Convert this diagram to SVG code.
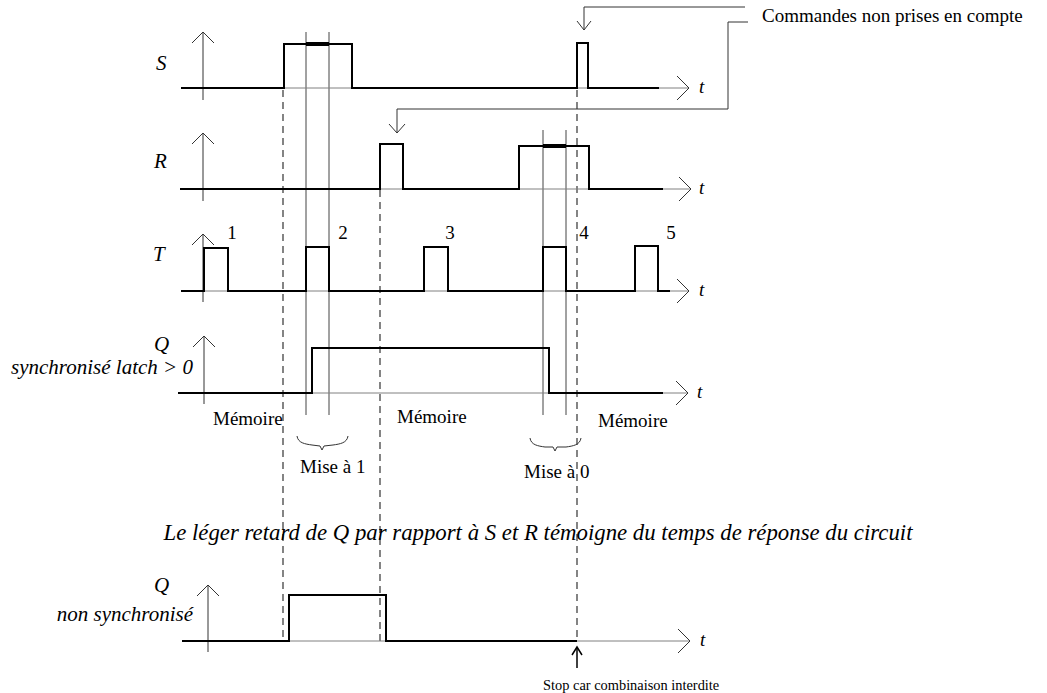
<svg xmlns="http://www.w3.org/2000/svg" width="1047" height="693" viewBox="0 0 1047 693">
<style>
text{font-family:"Liberation Serif","Times New Roman",serif;fill:#000}
.lbl{font-size:21px;font-style:italic}
.t{font-size:19px;font-style:italic}
.it{font-size:21px;font-style:italic}
.cap{font-size:22.8px;font-style:italic}
.txt{font-size:19px}
.axis{stroke:#808080;stroke-width:1;fill:none}
.vax{stroke:#333;stroke-width:1;fill:none}
.sig{stroke:#000;stroke-width:2;fill:none;stroke-linejoin:miter}
.hold{stroke:#000;stroke-width:4;fill:none}
.dash{stroke:#333;stroke-width:1.2;stroke-dasharray:7 5;fill:none}
.thin{stroke:#444;stroke-width:1;fill:none}
.ann{stroke:#333;stroke-width:1;fill:none}
</style>
<rect width="1047" height="693" fill="#fff"/>

<g id="guides">
<line class="dash" x1="283" y1="90" x2="283" y2="641"/>
<line class="dash" x1="380" y1="190" x2="380" y2="641"/>
<line class="dash" x1="577" y1="90" x2="577" y2="641"/>
<line class="thin" x1="306" y1="32" x2="306" y2="415"/>
<line class="thin" x1="329" y1="32" x2="329" y2="415"/>
<line class="thin" x1="543" y1="130" x2="543" y2="415"/>
<line class="thin" x1="566" y1="130" x2="566" y2="415"/>
</g>

<g id="signal-S">
<text class="lbl" x="156" y="70">S</text>
<line class="vax" x1="203" y1="32" x2="203" y2="100"/>
<polyline class="vax" points="192,43 203,32 214,43"/>
<line class="axis" x1="181" y1="88" x2="689" y2="88"/>
<polyline class="vax" points="677,76 689,88 677,100"/>
<polyline class="sig" points="181,88 284,88 284,44 352,44 352,88 577,88 577,43 588,43 588,88 659,88"/>
<line class="hold" x1="306" y1="44" x2="329" y2="44"/>
<text class="t" x="699" y="93">t</text>
</g>

<g id="signal-R">
<text class="lbl" x="154" y="168">R</text>
<line class="vax" x1="203" y1="133" x2="203" y2="201"/>
<polyline class="vax" points="192,144 203,133 214,144"/>
<line class="axis" x1="180" y1="189" x2="691" y2="189"/>
<polyline class="vax" points="679,177 691,189 679,201"/>
<polyline class="sig" points="180,189 380,189 380,144 403,144 403,189 519,189 519,146 589,146 589,189 663,189"/>
<line class="hold" x1="543" y1="146" x2="566" y2="146"/>
<text class="t" x="699" y="194">t</text>
</g>

<g id="signal-T">
<text class="lbl" x="153" y="261">T</text>
<line class="vax" x1="203" y1="234" x2="203" y2="302"/>
<polyline class="vax" points="192,245 203,234 214,245"/>
<line class="axis" x1="181" y1="291" x2="689" y2="291"/>
<polyline class="vax" points="677,279 689,291 677,303"/>
<polyline class="sig" points="181,291 204,291 204,248 228,248 228,291 306,291 306,247 329,247 329,291 424,291 424,247 448,247 448,291 543,291 543,247 566,247 566,291 635,291 635,246 658,246 658,291 670,291"/>
<text class="txt" x="232" y="239" text-anchor="middle">1</text>
<text class="txt" x="343" y="239" text-anchor="middle">2</text>
<text class="txt" x="450" y="239" text-anchor="middle">3</text>
<text class="txt" x="584" y="239" text-anchor="middle">4</text>
<text class="txt" x="671" y="239" text-anchor="middle">5</text>
<text class="t" x="699" y="296">t</text>
</g>

<g id="signal-Q-sync">
<text class="lbl" x="154" y="351">Q</text>
<text class="it" x="193" y="374" text-anchor="end">synchronisé latch &gt; 0</text>
<line class="vax" x1="204" y1="336" x2="204" y2="404"/>
<polyline class="vax" points="193,347 204,336 215,347"/>
<line class="axis" x1="178" y1="393" x2="688" y2="393"/>
<polyline class="vax" points="676,381 688,393 676,405"/>
<polyline class="sig" points="178,393 312,393 312,348 549,348 549,393 663,393"/>
<text class="t" x="697" y="398">t</text>
</g>

<g id="phases">
<text class="txt" x="213" y="425">Mémoire</text>
<text class="txt" x="397" y="423">Mémoire</text>
<text class="txt" x="598" y="427">Mémoire</text>
<path class="vax" d="M297,436 C298,443 305,444 312,445 L320,446 L322,450 L324,446 L333,445 C340,444 347,443 348,436"/>
<text class="txt" x="300" y="473">Mise à 1</text>
<path class="vax" d="M530,438 C531,445 538,446 545,447 L553,447 L555,451 L557,447 L566,447 C573,446 580,445 581,438"/>
<text class="txt" x="524" y="478">Mise à 0</text>
</g>

<text id="caption" class="cap" x="538" y="540" text-anchor="middle">Le léger retard de Q par rapport à S et R témoigne du temps de réponse du circuit</text>

<g id="signal-Q-nonsync">
<text class="lbl" x="154" y="592">Q</text>
<text class="it" x="193" y="621" text-anchor="end">non synchronisé</text>
<line class="vax" x1="208" y1="585" x2="208" y2="652"/>
<polyline class="vax" points="197,596 208,585 219,596"/>
<line class="axis" x1="182" y1="641" x2="690" y2="641"/>
<polyline class="vax" points="678,629 690,641 678,653"/>
<polyline class="sig" points="182,641 289,641 289,595 386,595 386,641 577,641"/>
<text class="t" x="700" y="646">t</text>
<line stroke="#000" stroke-width="1.5" x1="577" y1="668" x2="577" y2="647"/>
<polyline fill="none" stroke="#000" stroke-width="1.5" points="572,655 577,647 582,655"/>
<text x="543" y="690" font-size="14.4px">Stop car combinaison interdite</text>
</g>

<g id="connectors">
<polyline class="ann" points="745,7 584,7 584,30"/>
<polyline class="ann" points="577,21 584,30 591,21"/>
<polyline class="ann" points="748,22 728,22 728,109 397,109 397,133"/>
<polyline class="ann" points="389,124 397,133 405,124"/>
</g>
<text id="note" class="txt" x="762" y="22" font-size="20px">Commandes non prises en compte</text>
</svg>
